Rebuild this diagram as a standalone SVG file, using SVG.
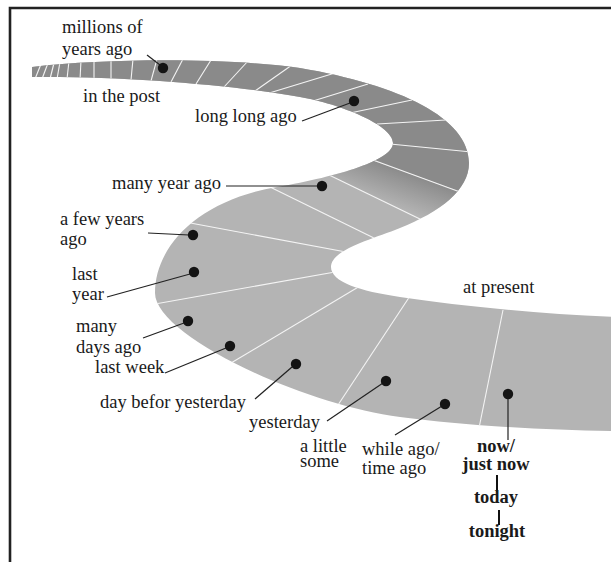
<svg xmlns="http://www.w3.org/2000/svg" width="611" height="562" viewBox="0 0 611 562">
<defs>
<style>
.t{font-family:"Liberation Serif","Times New Roman",serif;font-size:18.5px;fill:#1a1a1a}
.b{font-weight:bold;text-anchor:middle}
.tick{stroke:#f4f4f4;stroke-width:1.1;fill:none}
.lead{stroke:#222;stroke-width:1.2;fill:none}
.bar{stroke:#111;stroke-width:2;fill:none}
.dot{fill:#141414}
</style>
<path id="ribbonPath" d="M32,67 C110,58 230,58 300,68 C400,85 469,118 469,163 C469,190 440,212 400,228 C370,240 331,250 331,267 C331,282 360,291 400,297 C460,306 540,314 615,317 L615,431 C540,430 460,425 400,417 C300,404 155,335 155,293 C155,245 200,200 277,187 C340,176 393,160 393,143 C393,125 340,104 300,97 C240,86 130,76 32,77 Z"/>
<clipPath id="rc"><use href="#ribbonPath"/></clipPath>
<linearGradient id="tg" gradientUnits="userSpaceOnUse" x1="398" y1="209" x2="411" y2="173">
<stop offset="0" stop-color="#8a8a8a" stop-opacity="0"/>
<stop offset="1" stop-color="#8a8a8a" stop-opacity="1"/>
</linearGradient>
</defs>
<rect width="611" height="562" fill="#fff"/>
<path d="M10,562 V8 H611" fill="none" stroke="#222" stroke-width="2.6"/>

<g id="ribbon" clip-path="url(#rc)">
<rect width="611" height="562" fill="#b4b4b4"/>
<polygon points="0,0 611,0 611,200 484,200 375,161 340,140 0,140" fill="#8a8a8a"/>
<polygon points="360,156 484,200 440,228 320,171" fill="url(#tg)"/>
<g class="tick">
<line x1="35" y1="79" x2="41" y2="64"/>
<line x1="42" y1="79" x2="48" y2="63"/>
<line x1="50" y1="79" x2="54" y2="63"/>
<line x1="57" y1="79" x2="60" y2="62"/>
<line x1="67" y1="79" x2="69" y2="61"/>
<line x1="80" y1="80" x2="81" y2="60"/>
<line x1="94" y1="80" x2="94" y2="60"/>
<line x1="111" y1="80" x2="111" y2="59"/>
<line x1="131" y1="80" x2="133" y2="59"/>
<line x1="151" y1="81" x2="157" y2="59"/>
<line x1="171" y1="82" x2="183" y2="59"/>
<line x1="196" y1="84" x2="211" y2="60"/>
<line x1="224" y1="87" x2="248" y2="61"/>
<line x1="255" y1="91" x2="292" y2="65"/>
<line x1="266" y1="94" x2="335" y2="73"/>
<line x1="313" y1="101" x2="368" y2="84"/>
<line x1="350" y1="113" x2="412" y2="100"/>
<line x1="377" y1="124" x2="446" y2="120"/>
<line x1="390" y1="144" x2="472" y2="152"/>
<line x1="373" y1="160" x2="460" y2="192"/>
<line x1="327" y1="174" x2="422" y2="220"/>
<line x1="270" y1="187" x2="376" y2="239"/>
<line x1="185" y1="222" x2="346" y2="252"/>
<line x1="155" y1="304" x2="335" y2="272"/>
<line x1="226" y1="366" x2="360" y2="286"/>
<line x1="336" y1="408" x2="410" y2="296"/>
<line x1="479" y1="428" x2="503" y2="310"/>
</g>
</g>

<g id="connectors">
<line class="lead" x1="147" y1="55" x2="160" y2="65"/>
<line class="lead" x1="302" y1="121" x2="350" y2="103"/>
<line class="lead" x1="226" y1="186" x2="318" y2="186"/>
<line class="lead" x1="148" y1="233" x2="189" y2="235"/>
<line class="lead" x1="107" y1="297" x2="190" y2="274"/>
<line class="lead" x1="143" y1="338" x2="184" y2="323"/>
<line class="lead" x1="165" y1="373" x2="226" y2="348"/>
<line class="lead" x1="255" y1="399" x2="292" y2="367"/>
<line class="lead" x1="327" y1="421" x2="383" y2="383"/>
<line class="lead" x1="395" y1="435" x2="442" y2="406"/>
<line class="lead" x1="508" y1="394" x2="508" y2="440"/>
<line class="bar" x1="497" y1="475" x2="497" y2="492"/>
<line class="bar" x1="499" y1="510" x2="499" y2="525"/>
</g>

<g id="dots">
<circle class="dot" cx="163" cy="68" r="5.2"/>
<circle class="dot" cx="354" cy="101" r="5.2"/>
<circle class="dot" cx="322" cy="186" r="5.2"/>
<circle class="dot" cx="193" cy="235" r="5.2"/>
<circle class="dot" cx="194" cy="272" r="5.2"/>
<circle class="dot" cx="188" cy="321" r="5.2"/>
<circle class="dot" cx="230" cy="346" r="5.2"/>
<circle class="dot" cx="296" cy="364" r="5.2"/>
<circle class="dot" cx="386" cy="381" r="5.2"/>
<circle class="dot" cx="445" cy="404" r="5.2"/>
<circle class="dot" cx="508" cy="394" r="5.2"/>
</g>

<g id="n-millions"><text class="t" x="62" y="33">millions of</text><text class="t" x="62" y="55">years ago</text></g>
<g id="n-post"><text class="t" x="83" y="102">in the post</text></g>
<g id="n-longlong"><text class="t" x="195" y="122">long long ago</text></g>
<g id="n-manyyear"><text class="t" x="112" y="189">many year ago</text></g>
<g id="n-fewyears"><text class="t" x="60" y="225">a few years</text><text class="t" x="60" y="245">ago</text></g>
<g id="n-lastyear"><text class="t" x="72" y="280">last</text><text class="t" x="72" y="300">year</text></g>
<g id="n-manydays"><text class="t" x="76" y="332">many</text><text class="t" x="76" y="353">days ago</text></g>
<g id="n-lastweek"><text class="t" x="95" y="373">last week</text></g>
<g id="n-daybefore"><text class="t" x="100" y="408">day befor yesterday</text></g>
<g id="n-yesterday"><text class="t" x="249" y="428">yesterday</text></g>
<g id="n-alittle"><text class="t" x="300" y="452">a little</text><text class="t" x="300" y="467">some</text></g>
<g id="n-whileago"><text class="t" x="362" y="455">while ago/</text><text class="t" x="362" y="474">time ago</text></g>
<g id="n-now"><text class="t b" x="496" y="452">now/</text><text class="t b" x="496" y="470">just now</text></g>
<g id="n-today"><text class="t b" x="496" y="503">today</text></g>
<g id="n-tonight"><text class="t b" x="497" y="537">tonight</text></g>
<g id="n-present"><text class="t" x="463" y="293">at present</text></g>
</svg>
